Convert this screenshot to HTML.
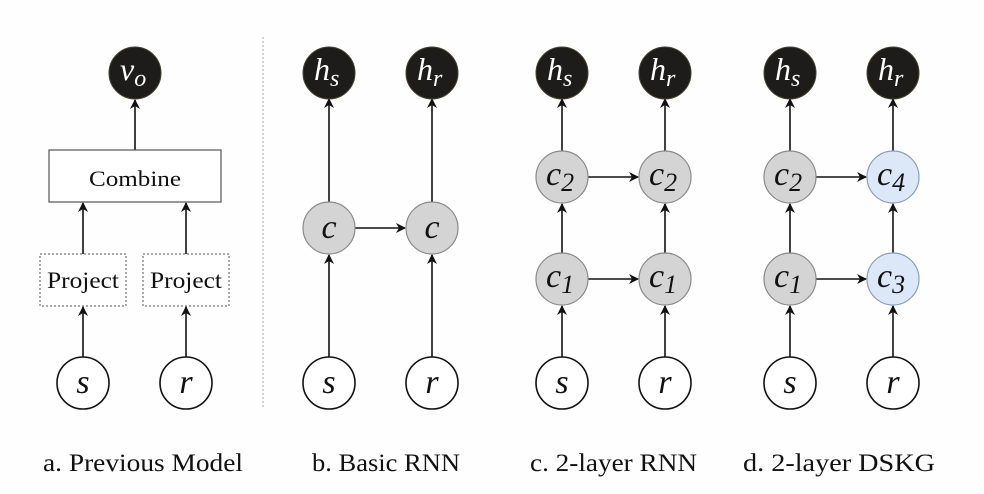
<!DOCTYPE html>
<html><head><meta charset="utf-8"><style>
html,body{margin:0;padding:0;background:#fefefe;}
svg{display:block;}
svg text{font-family:"Liberation Serif","Times New Roman",Times,serif;}
</style></head><body>
<svg width="984" height="494" viewBox="0 0 984 494" xmlns="http://www.w3.org/2000/svg" font-family="Liberation Serif, Times New Roman, serif">
<defs>
<marker id="ah" markerWidth="10" markerHeight="10" refX="9" refY="5" orient="auto" markerUnits="userSpaceOnUse">
<path d="M0,0 L10,5 L0,10 L3,5 Z" fill="#111"/>
</marker>
</defs>
<rect width="984" height="494" fill="#fefefe"/>
<line x1="263" y1="37" x2="263" y2="407" stroke="#aaa" stroke-width="1" stroke-dasharray="2,2"/>
<g stroke="#111" stroke-width="1.6" fill="none" marker-end="url(#ah)">
<line x1="135" y1="150" x2="135" y2="100"/>
<line x1="83" y1="254" x2="83" y2="203"/>
<line x1="186" y1="254" x2="186" y2="203"/>
<line x1="83" y1="357" x2="83" y2="307"/>
<line x1="186" y1="357" x2="186" y2="307"/>
<line x1="329" y1="202" x2="329" y2="99"/>
<line x1="432" y1="202" x2="432" y2="99"/>
<line x1="329" y1="357" x2="329" y2="255"/>
<line x1="432" y1="357" x2="432" y2="255"/>
<line x1="355" y1="228" x2="405" y2="228"/>
<line x1="562" y1="151" x2="562" y2="99"/>
<line x1="665" y1="151" x2="665" y2="99"/>
<line x1="562" y1="253" x2="562" y2="204"/>
<line x1="665" y1="253" x2="665" y2="204"/>
<line x1="562" y1="357" x2="562" y2="306"/>
<line x1="665" y1="357" x2="665" y2="306"/>
<line x1="588" y1="177" x2="638" y2="177"/>
<line x1="588" y1="279" x2="638" y2="279"/>
<line x1="790" y1="151" x2="790" y2="99"/>
<line x1="893" y1="151" x2="893" y2="99"/>
<line x1="790" y1="253" x2="790" y2="204"/>
<line x1="893" y1="253" x2="893" y2="204"/>
<line x1="790" y1="357" x2="790" y2="306"/>
<line x1="893" y1="357" x2="893" y2="306"/>
<line x1="816" y1="177" x2="866" y2="177"/>
<line x1="816" y1="279" x2="866" y2="279"/>
</g>
<rect x="49" y="150" width="172" height="52" fill="#fff" stroke="#555" stroke-width="1.2"/>
<text x="135" y="186" font-size="22" text-anchor="middle" fill="#111" textLength="92" lengthAdjust="spacingAndGlyphs">Combine</text>
<rect x="40" y="254" width="86" height="52" fill="#fff" stroke="#555" stroke-width="1" stroke-dasharray="2,2"/>
<rect x="143" y="254" width="86" height="52" fill="#fff" stroke="#555" stroke-width="1" stroke-dasharray="2,2"/>
<text x="83" y="288" font-size="23" text-anchor="middle" fill="#111" textLength="72" lengthAdjust="spacingAndGlyphs">Project</text>
<text x="186" y="288" font-size="23" text-anchor="middle" fill="#111" textLength="72" lengthAdjust="spacingAndGlyphs">Project</text>
<g fill="#1e1c1a" stroke="#443" stroke-width="1">
<circle cx="135" cy="73" r="26"/>
<circle cx="329" cy="73" r="26"/><circle cx="432" cy="73" r="26"/>
<circle cx="562" cy="73" r="26"/><circle cx="665" cy="73" r="26"/>
<circle cx="790" cy="73" r="26"/><circle cx="893" cy="73" r="26"/>
</g>
<g fill="#fff" font-style="italic" font-size="32">
<text x="120" y="80">v<tspan font-size="24" dy="6">o</tspan></text>
<text x="314" y="80">h<tspan font-size="24" dy="6">s</tspan></text>
<text x="417" y="80">h<tspan font-size="24" dy="6">r</tspan></text>
<text x="547" y="80">h<tspan font-size="24" dy="6">s</tspan></text>
<text x="650" y="80">h<tspan font-size="24" dy="6">r</tspan></text>
<text x="775" y="80">h<tspan font-size="24" dy="6">s</tspan></text>
<text x="878" y="80">h<tspan font-size="24" dy="6">r</tspan></text>
</g>
<g fill="#d4d4d4" stroke="#8a8a8a" stroke-width="1.2">
<circle cx="329" cy="228" r="26"/><circle cx="432" cy="228" r="26"/>
<circle cx="562" cy="177" r="26"/><circle cx="665" cy="177" r="26"/>
<circle cx="562" cy="279" r="26"/><circle cx="665" cy="279" r="26"/>
<circle cx="790" cy="177" r="26"/><circle cx="790" cy="279" r="26"/>
</g>
<g fill="#dce8f7" stroke="#8a9fb5" stroke-width="1.2">
<circle cx="893" cy="177" r="26"/><circle cx="893" cy="279" r="26"/>
</g>
<g fill="#111" font-style="italic" font-size="34">
<text x="329" y="238" text-anchor="middle">c</text>
<text x="432" y="238" text-anchor="middle">c</text>
<text x="546" y="185">c<tspan font-size="26" dy="6">2</tspan></text>
<text x="649" y="185">c<tspan font-size="26" dy="6">2</tspan></text>
<text x="546" y="287">c<tspan font-size="26" dy="6">1</tspan></text>
<text x="649" y="287">c<tspan font-size="26" dy="6">1</tspan></text>
<text x="774" y="185">c<tspan font-size="26" dy="6">2</tspan></text>
<text x="877" y="185">c<tspan font-size="26" dy="6">4</tspan></text>
<text x="774" y="287">c<tspan font-size="26" dy="6">1</tspan></text>
<text x="877" y="287">c<tspan font-size="26" dy="6">3</tspan></text>
</g>
<g fill="#fff" stroke="#111" stroke-width="1.6">
<circle cx="83" cy="383" r="26"/><circle cx="186" cy="383" r="26"/>
<circle cx="329" cy="383" r="26"/><circle cx="432" cy="383" r="26"/>
<circle cx="562" cy="383" r="26"/><circle cx="665" cy="383" r="26"/>
<circle cx="790" cy="383" r="26"/><circle cx="893" cy="383" r="26"/>
</g>
<g fill="#111" font-style="italic" font-size="34" text-anchor="middle">
<text x="83" y="393">s</text><text x="186" y="393">r</text>
<text x="329" y="393">s</text><text x="432" y="393">r</text>
<text x="562" y="393">s</text><text x="665" y="393">r</text>
<text x="790" y="393">s</text><text x="893" y="393">r</text>
</g>
<g fill="#111" font-size="25">
<text x="43" y="471" textLength="200" lengthAdjust="spacingAndGlyphs">a. Previous Model</text>
<text x="312" y="471" textLength="148" lengthAdjust="spacingAndGlyphs">b. Basic RNN</text>
<text x="530" y="471" textLength="167" lengthAdjust="spacingAndGlyphs">c. 2-layer RNN</text>
<text x="743" y="471" textLength="192" lengthAdjust="spacingAndGlyphs">d. 2-layer DSKG</text>
</g>
</svg>
</body></html>
